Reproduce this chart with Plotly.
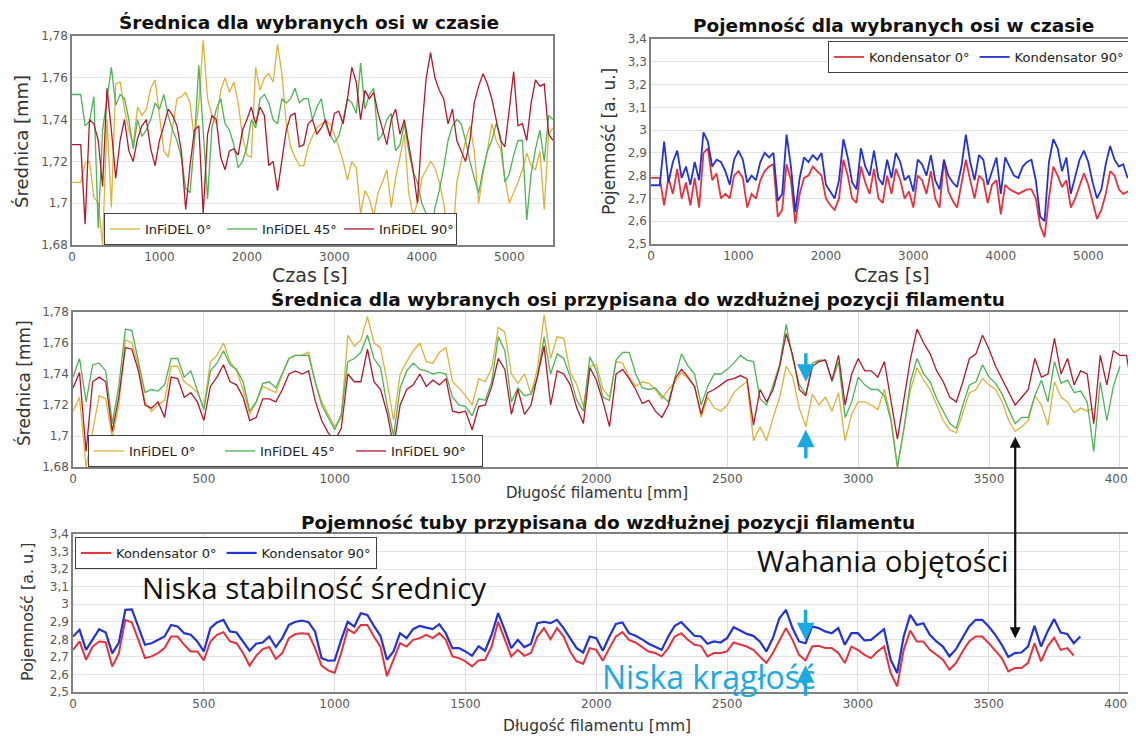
import plotly.graph_objects as go

# ---------------- data ----------------
time_s = list(range(0, 5501, 50))          # 111 sampling instants [s]
length_mm = list(range(0, 4051, 25))       # 163 positions [mm] (middle chart)
length_cap_mm = list(range(0, 3851, 25))   # 155 positions [mm] (bottom chart)

time_ticks = [0, 1000, 2000, 3000, 4000, 5000]
length_ticks = [0, 500, 1000, 1500, 2000, 2500, 3000, 3500, 4000]
diam_ticks = [1.68, 1.70, 1.72, 1.74, 1.76, 1.78]
diam_labels = ["1,68", "1,7", "1,72", "1,74", "1,76", "1,78"]
cap_ticks = [2.5, 2.6, 2.7, 2.8, 2.9, 3.0, 3.1, 3.2, 3.3, 3.4]
cap_labels = ["2,5", "2,6", "2,7", "2,8", "2,9", "3", "3,1", "3,2", "3,3", "3,4"]

# diameter vs time
t_d0 = [1.71,1.71,1.71,1.719,1.72,1.703,1.70,1.68,1.74,1.698,
        1.757,1.758,1.745,1.735,1.728,1.746,1.742,1.745,1.755,1.759,
        1.742,1.725,1.722,1.735,1.75,1.751,1.753,1.748,1.73,1.748,
        1.778,1.75,1.742,1.738,1.754,1.76,1.753,1.758,1.748,1.732,
        1.723,1.722,1.765,1.754,1.76,1.762,1.758,1.776,1.762,1.738,
        1.727,1.722,1.718,1.718,1.727,1.732,1.736,1.738,1.739,1.738,
        1.733,1.727,1.72,1.711,1.72,1.717,1.695,1.706,1.702,1.694,
        1.705,1.71,1.716,1.698,1.712,1.722,1.733,1.705,1.694,1.70,
        1.712,1.716,1.72,1.717,1.71,1.70,1.685,1.68,1.71,1.72,
        1.73,1.737,1.725,1.70,1.714,1.725,1.738,1.73,1.726,1.712,
        1.70,1.705,1.71,1.716,1.724,1.718,1.716,1.725,1.697,1.733,
        1.736]
t_d45 = [1.752,1.752,1.752,1.737,1.739,1.751,1.688,1.735,1.75,1.765,
         1.747,1.752,1.75,1.74,1.726,1.74,1.732,1.735,1.74,1.748,
         1.745,1.752,1.742,1.735,1.73,1.722,1.707,1.705,1.73,1.766,
         1.735,1.702,1.736,1.745,1.75,1.738,1.735,1.728,1.717,1.72,
         1.727,1.74,1.736,1.75,1.752,1.748,1.74,1.738,1.75,1.748,
         1.75,1.755,1.748,1.75,1.75,1.74,1.746,1.75,1.738,1.733,
         1.729,1.732,1.74,1.75,1.748,1.743,1.767,1.745,1.752,1.755,
         1.73,1.733,1.74,1.743,1.725,1.728,1.738,1.725,1.715,1.71,
         1.70,1.695,1.681,1.698,1.706,1.717,1.73,1.737,1.74,1.738,
         1.73,1.72,1.712,1.705,1.716,1.725,1.73,1.738,1.732,1.71,
         1.714,1.723,1.73,1.73,1.692,1.714,1.726,1.735,1.72,1.742,
         1.74]
t_d90 = [1.728,1.728,1.728,1.69,1.74,1.738,1.73,1.708,1.755,1.735,
         1.712,1.73,1.74,1.725,1.72,1.731,1.737,1.74,1.726,1.718,
         1.73,1.737,1.745,1.742,1.737,1.725,1.697,1.718,1.735,1.737,
         1.695,1.733,1.742,1.74,1.722,1.716,1.725,1.726,1.723,1.735,
         1.74,1.746,1.738,1.746,1.742,1.718,1.72,1.706,1.72,1.735,
         1.742,1.743,1.727,1.728,1.738,1.74,1.733,1.736,1.74,1.732,
         1.743,1.744,1.738,1.75,1.765,1.758,1.74,1.754,1.75,1.753,
         1.743,1.735,1.728,1.74,1.745,1.733,1.74,1.728,1.716,1.70,
         1.735,1.76,1.772,1.76,1.754,1.75,1.738,1.745,1.73,1.725,
         1.72,1.73,1.748,1.756,1.762,1.757,1.75,1.74,1.73,1.727,
         1.744,1.763,1.737,1.738,1.73,1.748,1.759,1.756,1.757,1.733,
         1.73]

# capacitance vs time
t_c0 = [2.79,2.79,2.79,2.67,2.79,2.72,2.83,2.70,2.77,2.67,
        2.79,2.66,2.90,2.92,2.78,2.81,2.70,2.72,2.70,2.80,
        2.82,2.79,2.66,2.72,2.70,2.78,2.82,2.84,2.85,2.62,
        2.65,2.85,2.78,2.59,2.72,2.79,2.80,2.84,2.82,2.80,
        2.70,2.67,2.65,2.70,2.87,2.80,2.70,2.68,2.84,2.77,
        2.72,2.83,2.70,2.68,2.80,2.72,2.83,2.78,2.70,2.73,
        2.66,2.80,2.78,2.72,2.82,2.70,2.66,2.87,2.73,2.69,
        2.66,2.76,2.87,2.78,2.70,2.80,2.78,2.68,2.76,2.78,
        2.63,2.76,2.74,2.73,2.72,2.73,2.74,2.74,2.70,2.58,
        2.53,2.70,2.84,2.80,2.75,2.78,2.66,2.70,2.76,2.81,
        2.76,2.68,2.61,2.65,2.72,2.82,2.80,2.74,2.72,2.73,
        2.73]
t_c90 = [2.758,2.758,2.758,2.95,2.77,2.86,2.91,2.79,2.84,2.76,
         2.86,2.78,2.99,2.95,2.84,2.87,2.86,2.82,2.76,2.87,
         2.91,2.87,2.77,2.80,2.78,2.86,2.90,2.88,2.90,2.69,
         2.72,2.98,2.84,2.64,2.79,2.88,2.86,2.89,2.87,2.90,
         2.76,2.73,2.70,2.78,2.96,2.88,2.77,2.74,2.92,2.84,
         2.80,2.91,2.79,2.76,2.87,2.79,2.90,2.86,2.78,2.80,
         2.73,2.87,2.85,2.80,2.89,2.78,2.74,2.87,2.80,2.77,
         2.75,2.84,2.98,2.86,2.78,2.89,2.87,2.76,2.82,2.88,
         2.72,2.88,2.84,2.80,2.79,2.84,2.86,2.87,2.78,2.62,
         2.60,2.86,2.96,2.92,2.82,2.88,2.72,2.79,2.87,2.91,
         2.86,2.77,2.70,2.74,2.85,2.93,2.87,2.84,2.85,2.79,
         2.82]

# diameter vs filament length
l_d0 = [1.716,1.725,1.68,1.702,1.726,1.724,1.699,1.72,1.762,1.76,
        1.745,1.722,1.716,1.72,1.723,1.745,1.745,1.735,1.732,1.728,
        1.718,1.748,1.752,1.76,1.748,1.742,1.73,1.714,1.722,1.732,
        1.73,1.728,1.74,1.75,1.752,1.752,1.754,1.735,1.722,1.714,
        1.706,1.712,1.765,1.758,1.762,1.777,1.76,1.757,1.735,1.71,
        1.74,1.748,1.755,1.76,1.748,
        1.747,1.754,1.757,1.735,1.731,1.726,1.72,1.737,1.735,1.744,
        1.77,1.767,1.74,1.734,1.74,1.727,1.744,1.778,1.75,1.764,
        1.763,1.741,1.733,1.719,1.745,1.746,1.73,1.725,1.748,1.747,
        1.738,1.732,1.735,1.734,1.73,1.724,1.73,1.735,1.741,1.737,
        1.732,1.712,1.725,1.718,1.716,1.72,1.728,1.732,1.735,1.697,
        1.706,1.697,1.712,
        1.725,1.745,1.738,1.718,1.706,1.727,1.72,1.725,1.716,1.728,
        1.697,1.714,1.722,1.722,1.72,1.717,1.73,1.712,1.68,1.705,
        1.73,1.744,1.736,1.73,1.72,1.71,1.704,1.702,1.715,1.728,
        1.73,1.737,1.733,1.73,1.722,1.71,1.703,1.706,1.71,1.726,
        1.72,1.707,1.735,1.725,1.722,1.715,1.718,1.716,1.718,
        None,None,None,None,None,None]
l_d45 = [1.738,1.75,1.722,1.746,1.747,1.742,1.708,1.732,1.769,1.768,
         1.748,1.728,1.73,1.729,1.733,1.75,1.75,1.738,1.742,1.729,
         1.717,1.742,1.747,1.755,1.746,1.743,1.735,1.716,1.722,1.734,
         1.735,1.731,1.74,1.75,1.752,1.752,1.752,1.735,1.72,1.712,
         1.704,1.714,1.748,1.75,1.754,1.765,1.75,1.744,1.72,1.70,
         1.731,1.742,1.747,1.743,1.742,
         1.74,1.741,1.74,1.725,1.72,1.719,1.713,1.724,1.723,1.735,
         1.764,1.755,1.722,1.731,1.726,1.727,1.738,1.764,1.74,1.753,
         1.75,1.738,1.723,1.716,1.751,1.742,1.725,1.723,1.749,1.754,
         1.754,1.74,1.731,1.73,1.731,1.726,1.722,1.738,1.753,1.745,
         1.74,1.72,1.732,1.74,1.74,1.743,1.747,1.752,1.749,1.748,
         1.724,1.72,1.733,
         1.746,1.772,1.75,1.733,1.727,1.747,1.749,1.749,1.735,1.748,
         1.712,1.722,1.738,1.733,1.73,1.73,1.726,1.71,1.68,1.705,
         1.735,1.75,1.74,1.735,1.724,1.716,1.708,1.705,1.72,1.733,
         1.735,1.746,1.738,1.734,1.727,1.717,1.708,1.712,1.712,1.726,
         1.736,1.722,1.748,1.734,1.736,1.728,1.729,1.722,1.69,1.735,
         1.71,1.732,1.745,
         None,None]
l_d90 = [1.731,1.741,1.69,1.735,1.738,1.735,1.703,1.725,1.757,1.756,
         1.742,1.72,1.718,1.722,1.712,1.738,1.737,1.725,1.728,1.722,
         1.71,1.732,1.738,1.746,1.735,1.733,1.725,1.71,1.712,1.724,
         1.724,1.722,1.73,1.74,1.742,1.74,1.742,1.723,1.71,1.702,
         1.697,1.705,1.74,1.735,1.735,1.756,1.735,1.73,1.715,1.693,
         1.72,1.73,1.733,1.74,1.732,
         1.736,1.733,1.737,1.716,1.715,1.716,1.704,1.719,1.72,1.732,
         1.75,1.743,1.714,1.73,1.714,1.72,1.738,1.758,1.72,1.742,
         1.74,1.733,1.718,1.708,1.744,1.736,1.722,1.706,1.74,1.743,
         1.737,1.73,1.721,1.723,1.716,1.712,1.72,1.737,1.743,1.738,
         1.732,1.714,1.728,1.73,1.733,1.736,1.737,1.739,1.737,1.707,
         1.73,1.722,1.73,
         1.745,1.766,1.752,1.73,1.726,1.745,1.748,1.749,1.736,1.752,
         1.72,1.74,1.75,1.742,1.742,1.738,1.748,1.723,1.698,1.724,
         1.75,1.769,1.76,1.753,1.742,1.735,1.725,1.722,1.735,1.75,
         1.753,1.765,1.756,1.745,1.737,1.728,1.72,1.725,1.73,1.75,
         1.738,1.74,1.763,1.74,1.75,1.733,1.742,1.74,1.708,1.752,
         1.733,1.755,1.752,1.752,1.727]

# capacitance vs filament length
l_c0 = [2.74,2.788,2.684,2.759,2.788,2.784,2.645,2.72,2.911,2.896,
        2.797,2.693,2.703,2.722,2.75,2.816,2.816,2.769,2.731,2.731,
        2.68,2.788,2.826,2.841,2.788,2.778,2.722,2.65,2.706,2.744,
        2.756,2.688,2.722,2.807,2.83,2.835,2.831,2.75,2.65,2.623,
        2.608,2.722,2.858,2.835,2.882,2.882,2.816,2.759,2.59,2.684,
        2.778,2.759,2.797,2.807,2.826,2.807,2.835,2.797,2.703,2.693,
        2.674,2.646,2.68,2.684,2.759,2.90,2.797,2.703,2.74,2.706,
        2.722,2.816,2.864,2.80,2.864,2.816,2.731,2.674,2.661,2.75,
        2.74,
        2.678,2.75,2.816,2.841,2.797,2.782,2.756,2.731,2.722,2.703,
        2.75,2.816,2.835,2.797,2.769,2.763,2.703,2.722,2.722,2.731,
        2.782,2.769,2.759,2.74,2.703,2.665,2.722,2.797,2.864,2.797,
        2.712,2.68,2.759,2.763,2.75,2.75,2.722,2.665,2.759,2.74,
        2.712,2.693,2.731,2.759,2.608,2.532,2.74,2.85,2.788,2.788,
        2.74,2.712,2.684,2.627,2.665,2.731,2.788,2.816,2.816,2.778,
        2.735,2.693,2.617,2.636,2.636,2.665,2.778,2.674,2.759,2.81,
        2.74,2.75,2.708,None]
l_c90 = [2.816,2.854,2.74,2.797,2.858,2.839,2.72,2.78,2.968,2.97,
         2.873,2.769,2.778,2.797,2.816,2.882,2.873,2.835,2.826,2.788,
         2.731,2.864,2.896,2.911,2.845,2.839,2.788,2.735,2.775,2.782,
         2.816,2.756,2.807,2.882,2.90,2.907,2.898,2.845,2.693,2.678,
         2.68,2.797,2.90,2.873,2.949,2.939,2.877,2.82,2.684,2.731,
         2.835,2.807,2.858,2.877,2.867,2.858,2.886,2.835,2.75,2.75,
         2.731,2.706,2.76,2.735,2.826,2.949,2.854,2.75,2.797,2.756,
         2.773,2.892,2.90,2.892,2.911,2.864,2.807,2.75,2.725,2.816,
         2.807,
         2.735,2.816,2.888,2.896,2.835,2.82,2.80,2.775,2.756,2.74,
         2.816,2.877,2.898,2.858,2.82,2.816,2.775,2.788,2.782,2.807,
         2.869,2.85,2.831,2.82,2.788,2.731,2.807,2.92,2.968,2.864,
         2.788,2.778,2.873,2.864,2.845,2.835,2.864,2.769,2.835,2.835,
         2.794,2.797,2.826,2.858,2.684,2.608,2.816,2.939,2.882,2.892,
         2.826,2.788,2.759,2.703,2.744,2.807,2.873,2.911,2.911,2.873,
         2.826,2.769,2.699,2.722,2.725,2.759,2.877,2.759,2.845,2.915,
         2.839,2.831,2.778,2.816]

for name, arr, ref in [("t_d0", t_d0, time_s), ("t_d45", t_d45, time_s), ("t_d90", t_d90, time_s),
                       ("t_c0", t_c0, time_s), ("t_c90", t_c90, time_s),
                       ("l_d0", l_d0, length_mm), ("l_d45", l_d45, length_mm), ("l_d90", l_d90, length_mm),
                       ("l_c0", l_c0, length_cap_mm), ("l_c90", l_c90, length_cap_mm)]:
    assert len(arr) == len(ref), (name, len(arr), len(ref))

# ---------------- styling ----------------
# the page body has an 8 px margin, so the figure occupies 1128 x 728 px
OFF = 8
W, H = 1136 - OFF, 736 - OFF
C_Y, C_G, C_R = "#DDB23A", "#4DB356", "#B0182B"
C_K0, C_K90 = "#E5323F", "#2233D4"
CYAN = "#1BA9E1"
FONT = "DejaVu Sans"

def px(x):
    return (x - OFF) / W

def py(y):
    return 1 - (y - OFF) / H

fig = go.Figure()

def add(x, y, name, color, xa, ya, legend, width=1.3):
    fig.add_trace(go.Scatter(x=x, y=y, name=name, mode="lines",
                             line=dict(color=color, width=width),
                             xaxis=xa, yaxis=ya, legend=legend,
                             connectgaps=False, hoverinfo="skip"))

add(time_s, t_d0, "InFiDEL 0°", C_Y, "x", "y", "legend")
add(time_s, t_d45, "InFiDEL 45°", C_G, "x", "y", "legend")
add(time_s, t_d90, "InFiDEL 90°", C_R, "x", "y", "legend")
add(time_s, t_c0, "Kondensator 0°", C_K0, "x2", "y2", "legend2", 1.8)
add(time_s, t_c90, "Kondensator 90°", C_K90, "x2", "y2", "legend2", 1.8)
add(length_mm, l_d0, "InFiDEL 0°", C_Y, "x3", "y3", "legend3")
add(length_mm, l_d45, "InFiDEL 45°", C_G, "x3", "y3", "legend3")
add(length_mm, l_d90, "InFiDEL 90°", C_R, "x3", "y3", "legend3")
add(length_cap_mm, l_c0, "Kondensator 0°", C_K0, "x4", "y4", "legend4", 2.0)
add(length_cap_mm, l_c90, "Kondensator 90°", C_K90, "x4", "y4", "legend4", 2.2)

tickfont = dict(family=FONT, size=12, color="#595959")
frame = dict(showline=True, mirror=True, linecolor="#808080", linewidth=1.5,
             zeroline=False, ticks="", tickfont=tickfont, automargin=False)

def xax(dom, rng, ticks, anchor, grid):
    d = dict(frame)
    d.update(domain=dom, range=rng, tickvals=ticks, anchor=anchor,
             showgrid=grid, gridcolor="#DCDCDC", gridwidth=1)
    return d

def yax(dom, rng, ticks, labels, anchor):
    d = dict(frame)
    d.update(domain=dom, range=rng, tickvals=ticks, ticktext=labels, anchor=anchor,
             showgrid=True, gridcolor="#E3E3E3", gridwidth=1)
    return d

legbase = dict(orientation="h", bgcolor="white", bordercolor="#404040", borderwidth=1,
               font=dict(family=FONT, size=13, color="#222222"), itemwidth=30,
               itemclick=False, traceorder="normal")

fig.update_layout(
    width=W, height=H, autosize=False,
    margin=dict(l=0, r=0, t=0, b=0, pad=0, autoexpand=False),
    paper_bgcolor="white", plot_bgcolor="white", showlegend=True, hovermode=False,
    xaxis=xax([px(72), px(553)], [0, 5500], time_ticks, "y", False),
    yaxis=yax([py(245), py(36)], [1.68, 1.78], diam_ticks, diam_labels, "x"),
    xaxis2=xax([px(651), px(1132)], [0, 5500], time_ticks, "y2", False),
    yaxis2=yax([py(244), py(39)], [2.5, 3.4], cap_ticks, cap_labels, "x2"),
    xaxis3=xax([px(73), px(1133)], [0, 4050], length_ticks, "y3", True),
    yaxis3=yax([py(467), py(312)], [1.68, 1.78], diam_ticks, diam_labels, "x3"),
    xaxis4=xax([px(73), px(1130)], [0, 4040], length_ticks, "y4", True),
    yaxis4=yax([py(692), py(534)], [2.5, 3.4], cap_ticks, cap_labels, "x4"),
    legend=dict(legbase, x=px(104), y=py(245), xanchor="left", yanchor="bottom",
                entrywidth=72, entrywidthmode="pixels"),
    legend2=dict(legbase, x=px(1130), y=py(41), xanchor="right", yanchor="top"),
    legend3=dict(legbase, x=px(88), y=py(467), xanchor="left", yanchor="bottom",
                 entrywidth=86, entrywidthmode="pixels"),
    legend4=dict(legbase, x=px(75), y=py(537), xanchor="left", yanchor="top"),
)

ann = []

def text(s, x, y, size, bold=False, color="#111111", angle=0, family=FONT):
    ann.append(dict(text=f"<b>{s}</b>" if bold else s, x=px(x), y=py(y),
                    xref="paper", yref="paper", showarrow=False,
                    xanchor="center", yanchor="middle", textangle=angle,
                    font=dict(family=family, size=size, color=color)))

# chart titles
text("Średnica dla wybranych osi w czasie", 309, 22, 18.5, bold=True)
text("Pojemność dla wybranych osi w czasie", 893, 25, 18.5, bold=True)
text("Średnica dla wybranych osi przypisana do wzdłużnej pozycji filamentu", 638, 299, 18.5, bold=True)
text("Pojemność tuby przypisana do wzdłużnej pozycji filamentu", 608, 522, 18.5, bold=True)
# axis titles
text("Czas [s]", 310, 275, 19, color="#333333")
text("Czas [s]", 892, 275, 19, color="#333333")
text("Długość filamentu [mm]", 597, 492.5, 15, color="#333333")
text("Długość filamentu [mm]", 597, 726, 15.5, color="#333333")
text("Średnica [mm]", 21, 142, 18, color="#333333", angle=-90)
text("Pojemność [a. u.]", 609, 142, 17, color="#333333", angle=-90)
text("Średnica [mm]", 24, 383, 17, color="#333333", angle=-90)
text("Pojemność [a. u.]", 27, 612, 16, color="#333333", angle=-90)
# commentary
text("Niska stabilność średnicy", 314, 587, 29.5, family="Open Sans", color="#111111")
text("Wahania objętości", 882, 560, 29.5, family="Open Sans", color="#111111")
text("Niska krągłość", 708, 676, 32, family="Open Sans", color=CYAN)

def arrow(x, y, xr, yr, ay, color, width, both=False):
    d = dict(x=x, y=y, xref=xr, yref=yr, ax=0, ay=ay, axref="pixel", ayref="pixel",
             showarrow=True, text="", arrowcolor=color, arrowwidth=width,
             arrowhead=2, arrowsize=1.0)
    if both:
        d.update(arrowside="end+start", startarrowhead=2, startarrowsize=1.0)
    ann.append(d)

arrow(2800, 1.735, "x3", "y3", -30, CYAN, 3.5)
arrow(2800, 1.704, "x3", "y3", 30, CYAN, 3.5)
arrow(2800, 2.795, "x4", "y4", -32, CYAN, 3.5)
arrow(2800, 2.653, "x4", "y4", 32, CYAN, 3.5)
arrow(3600, 1.6995, "x3", "y3", 203, "#111111", 2.2, both=True)

fig.update_layout(annotations=ann)
fig.write_html("out.html")
